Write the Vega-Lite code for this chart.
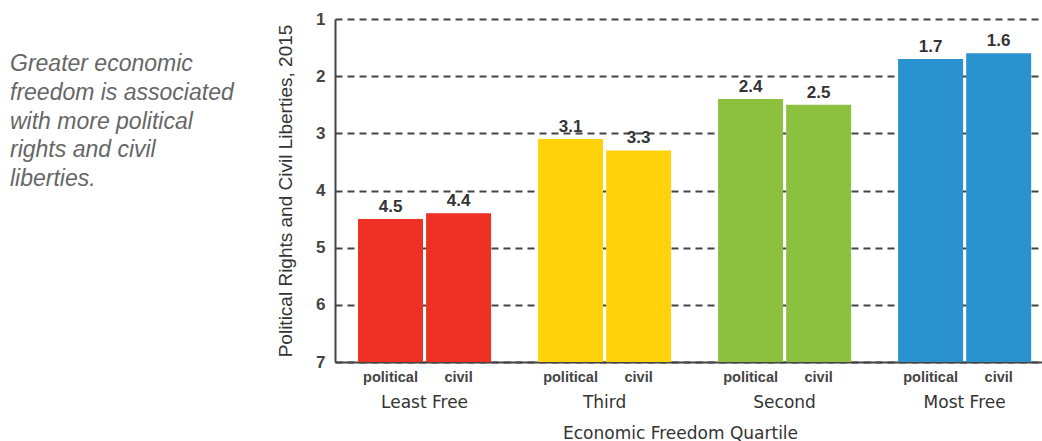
{
  "$schema": "https://vega.github.io/schema/vega-lite/v6.json",
  "width": 707,
  "height": 343,
  "autosize": {"type": "none"},
  "padding": {"left": 335, "top": 19, "right": 0, "bottom": 79},
  "background": "white",
  "title": {
    "text": ["Greater economic", "freedom is associated", "with more political", "rights and civil", "liberties."],
    "orient": "top",
    "anchor": "start",
    "frame": "group",
    "baseline": "alphabetic",
    "dx": -325,
    "dy": 203,
    "font": "Liberation Sans",
    "fontSize": 23,
    "fontStyle": "italic",
    "fontWeight": "normal",
    "color": "#666666",
    "lineHeight": 28.7
  },
  "config": {
    "view": {"stroke": null},
    "font": "Liberation Sans"
  },
  "data": {
    "values": [
      {"quartile": "Least Free", "type": "political", "value": 4.5},
      {"quartile": "Least Free", "type": "civil", "value": 4.4},
      {"quartile": "Third", "type": "political", "value": 3.1},
      {"quartile": "Third", "type": "civil", "value": 3.3},
      {"quartile": "Second", "type": "political", "value": 2.4},
      {"quartile": "Second", "type": "civil", "value": 2.5},
      {"quartile": "Most Free", "type": "political", "value": 1.7},
      {"quartile": "Most Free", "type": "civil", "value": 1.6}
    ]
  },
  "encoding": {
    "x": {
      "field": "quartile",
      "type": "nominal",
      "sort": ["Least Free", "Third", "Second", "Most Free"],
      "scale": {"paddingInner": 0.261, "paddingOuter": 0.094, "align": 0.68},
      "axis": {
        "title": "Economic Freedom Quartile",
        "titleFont": "DejaVu Sans",
        "titleFontSize": 17,
        "titleFontWeight": "normal",
        "titleColor": "#333333",
        "titlePadding": 15,
        "titleX": 345,
        "labelFont": "DejaVu Sans",
        "labelFontSize": 17,
        "labelColor": "#333333",
        "labelPadding": 32,
        "labelAngle": 0,
        "ticks": false,
        "domainColor": "#444444",
        "domainWidth": 2
      }
    },
    "xOffset": {
      "field": "type",
      "type": "nominal",
      "sort": ["political", "civil"],
      "scale": {"paddingInner": 0.045, "paddingOuter": 0}
    }
  },
  "layer": [
    {
      "mark": {"type": "bar"},
      "encoding": {
        "y": {
          "field": "value",
          "type": "quantitative",
          "scale": {"domain": [1, 7], "reverse": true, "nice": false, "zero": false},
          "axis": {
            "title": "Political Rights and Civil Liberties, 2015",
            "titleFont": "Liberation Sans",
            "titleFontSize": 19,
            "titleFontWeight": "normal",
            "titleColor": "#333333",
            "titlePadding": 20,
            "values": [1, 2, 3, 4, 5, 6, 7],
            "format": "d",
            "labelFont": "Liberation Sans",
            "labelFontSize": 17,
            "labelFontWeight": "bold",
            "labelColor": "#444444",
            "labelPadding": 10,
            "ticks": false,
            "domainColor": "#444444",
            "domainWidth": 2,
            "grid": true,
            "gridColor": "#444444",
            "gridWidth": 2,
            "gridDash": [7, 5]
          }
        },
        "y2": {"datum": 7},
        "color": {
          "field": "quartile",
          "type": "nominal",
          "scale": {
            "domain": ["Least Free", "Third", "Second", "Most Free"],
            "range": ["#EE3124", "#FFD20A", "#8DC03F", "#2A93CF"]
          },
          "legend": null
        }
      }
    },
    {
      "mark": {
        "type": "text",
        "baseline": "alphabetic",
        "dy": -7,
        "font": "Liberation Sans",
        "fontSize": 17,
        "fontWeight": "bold",
        "color": "#333333"
      },
      "encoding": {
        "y": {"field": "value", "type": "quantitative"},
        "text": {"field": "value", "type": "quantitative", "format": ".1f"}
      }
    },
    {
      "mark": {
        "type": "text",
        "baseline": "top",
        "dy": 9,
        "font": "Liberation Sans",
        "fontSize": 14.5,
        "fontWeight": "bold",
        "color": "#444444"
      },
      "encoding": {
        "y": {"datum": 7},
        "text": {"field": "type", "type": "nominal"}
      }
    }
  ]
}
